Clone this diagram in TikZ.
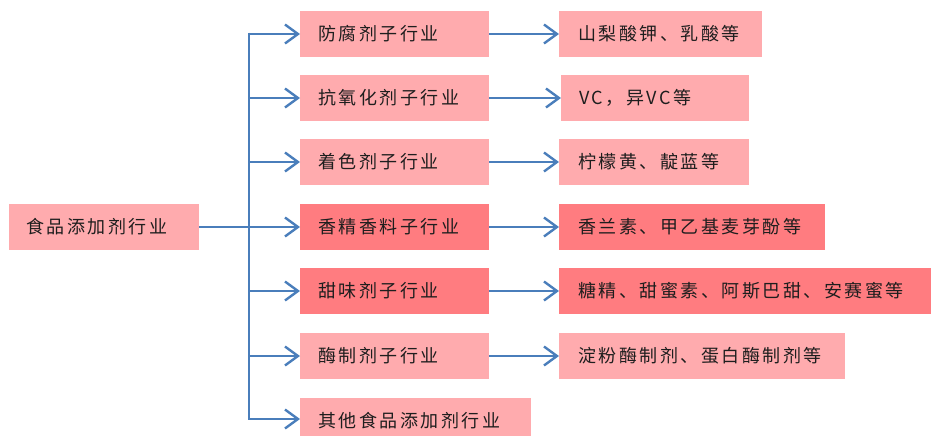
\documentclass[tikz,border=0pt]{standalone}
\usepackage{fontspec}
\setmainfont{Liberation Serif}
\newfontfamily\cjk[LetterSpace=14]{Noto Sans CJK SC}
\usetikzlibrary{arrows.meta}
\definecolor{lightpk}{RGB}{255,171,174}
\definecolor{darkpk}{RGB}{255,124,128}
\definecolor{arrblue}{RGB}{74,126,187}
\definecolor{txt}{RGB}{30,30,30}
\tikzset{
  box/.style={rectangle, anchor=west, minimum height=46pt, inner xsep=18pt, inner ysep=0pt,
     align=left, font=\cjk\fontsize{18}{20}\selectfont, text=txt, fill=lightpk},
  hot/.style={fill=darkpk},
  conn/.style={draw=arrblue, line width=2.6pt},
  arr/.style={conn, -{Straight Barb[length=13pt,width=19pt,line width=2.4pt]}},
}
\begin{document}
\begin{tikzpicture}[x=1pt,y=-1pt]
\useasboundingbox (0,0) rectangle (931,436);
\begin{scope}
\clip (0,0) rectangle (931,436);
% left
\node[box, inner xsep=17pt, text width=156pt] (L) at (9,227) {食品添加剂行业};
% middle
\node[box, text width=153pt] (m1) at (300,34) {防腐剂子行业};
\node[box, text width=153pt] (m2) at (300,98) {抗氧化剂子行业};
\node[box, text width=153pt] (m3) at (300,162) {着色剂子行业};
\node[box, hot, text width=153pt] (m4) at (300,227) {香精香料子行业};
\node[box, hot, text width=153pt] (m5) at (300,291) {甜味剂子行业};
\node[box, text width=153pt] (m6) at (300,356) {酶制剂子行业};
\node[box, text width=195pt] (m7) at (300,421) {其他食品添加剂行业};
% right
\node[box, inner xsep=19pt, text width=165pt] (r1) at (559,34) {山梨酸钾、乳酸等};
\node[box, inner xsep=18pt, text width=152pt] (r2) at (561,98) {VC，异VC等};
\node[box, inner xsep=19pt, text width=152pt] (r3) at (559,162) {柠檬黄、靛蓝等};
\node[box, hot, inner xsep=19pt, text width=228pt] (r4) at (559,227) {香兰素、甲乙基麦芽酚等};
\node[box, hot, inner xsep=19pt, text width=340pt] (r5) at (559,291) {糖精、甜蜜素、阿斯巴甜、安赛蜜等};
\node[box, inner xsep=19pt, text width=248pt] (r6) at (559,356) {淀粉酶制剂、蛋白酶制剂等};
\end{scope}
% trunk
\coordinate (t0) at (249,227);
\coordinate (t1) at (249,34);
\coordinate (t2) at (249,98);
\coordinate (t3) at (249,162);
\coordinate (t4) at (249,227);
\coordinate (t5) at (249,291);
\coordinate (t6) at (249,356);
\coordinate (t7) at (249,419);
\draw[conn] (L.east) -- (t0);
\draw[conn] ([yshift=1.3pt]t1) -- ([yshift=-1.3pt]t7);
\foreach \i in {1,...,6} {
  \draw[arr] (t\i) -- (m\i.west);
  \draw[arr] (m\i.east) -- (r\i.west);
}
\draw[arr] (t7) -- (m7.west |- t7);
\end{tikzpicture}
\end{document}
